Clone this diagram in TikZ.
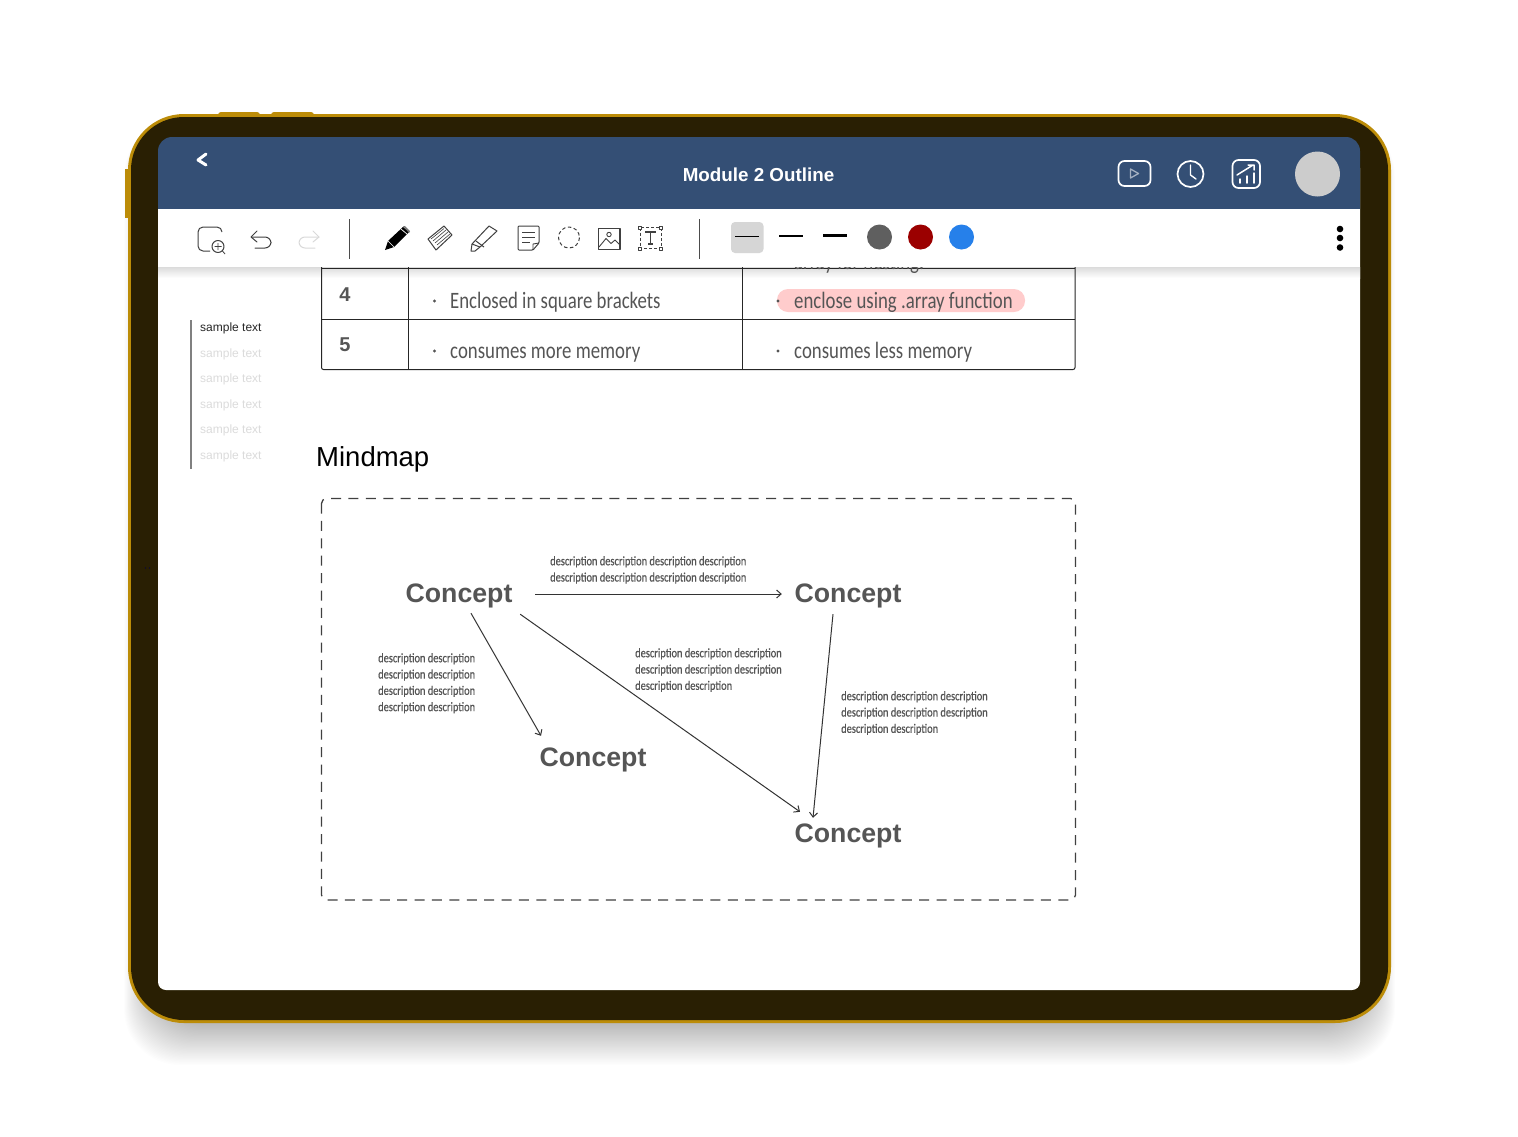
\documentclass[tikz,border=0pt]{standalone}
\usepackage{fontspec}
\setmainfont{Liberation Sans}
\newfontfamily\handfont[FakeStretch=0.80]{Carlito}
\newfontfamily\descfont[FakeStretch=0.80,FakeBold=0.6]{Carlito}
\usepackage{tikz}
\usetikzlibrary{positioning, arrows.meta}

\definecolor{goldrim}{HTML}{BC8C08}
\definecolor{bezel}{HTML}{291F03}
\definecolor{headbar}{HTML}{344F75}
\definecolor{inkgrey}{HTML}{555555}
\definecolor{pillpink}{HTML}{FFCCCC}
\definecolor{swatchgrey}{HTML}{5F5F5F}
\definecolor{swatchred}{HTML}{9B0000}
\definecolor{swatchblue}{HTML}{2680EA}

\tikzset{
  concept/.style={inner sep=0pt, minimum width=118pt, minimum height=40pt, text height=21pt, text depth=3pt, text=inkgrey, font=\fontsize{26.7}{30}\selectfont\bfseries},
  descr/.style={inner sep=0pt, anchor=north west, align=left, text=inkgrey, font=\descfont\fontsize{13}{16.3}\selectfont},
  cell/.style={inner sep=0pt, anchor=base west, text=inkgrey, font=\handfont\fontsize{23.5}{26}\selectfont},
  rownum/.style={inner sep=0pt, text=inkgrey, font=\fontsize{20}{22}\selectfont\bfseries},
  bullet/.style={circle, fill=inkgrey, inner sep=0pt, minimum size=3.4pt},
  side/.style={inner sep=0pt, anchor=west, font=\fontsize{12}{13}\selectfont},
  swatch/.style={circle, inner sep=0pt, minimum size=25pt},
  thickbar/.style={draw=black, line cap=butt},
  gridline/.style={draw=black!85, line width=1pt},
  icon/.style={draw=black!75, line width=1pt, line join=round},
  headicon/.style={draw=white, line width=1.7pt, line join=round, line cap=round},
  link/.style={-{Straight Barb[length=4.5pt,width=8pt]}, draw=black!80, line width=1pt}
}

\begin{document}
\begin{tikzpicture}[x=1pt, y=-1pt]
\useasboundingbox (0,0) rectangle (1518,1136);
\fill[white] (0,0) rectangle (1518,1136);

% shadow under the tablet
\foreach \n in {0,...,39}{
  \fill[black, opacity=.0065, rounded corners=56pt] (128+\n*.75-4,120) rectangle (1391-\n*.75+4,1023+42-\n*1.2);
}

% tablet body
\fill[goldrim, rounded corners=3pt] (218,112) rectangle (260,118);
\fill[goldrim, rounded corners=3pt] (271,112) rectangle (314,118);
\fill[goldrim] (125,169) rectangle (132,218);
\fill[goldrim, rounded corners=56pt] (128,114) rectangle (1391,1023);
\fill[bezel, rounded corners=53pt] (131,117) rectangle (1388,1020);
\fill[white, rounded corners=8pt] (158,160) rectangle (1360,990);
\fill[black!70!blue] (145.5,568) circle (.7) (149.5,568) circle (.7);

% table, scrolled under the toolbar
\shade[top color=black!14, bottom color=white] (158,267) rectangle (1360,278);
\draw[gridline, rounded corners=2pt] (321.5,262) -- (321.5,369.5) -- (1075,369.5) -- (1075,262);
\draw[gridline] (321.5,268) -- (1075,268);
\draw[gridline] (321.5,319.5) -- (1075,319.5);
\draw[gridline] (408.8,262) -- (408.8,369.5);
\draw[gridline] (742,262) -- (742,369.5);
\fill[pillpink, rounded corners=11pt] (777,289) rectangle (1025,312);
\node[rownum] (n4) at (345,294.5) {4};
\node[rownum] (n5) at (345,344.5) {5};
\node[bullet] (b1) at (434.5,301) {};
\node[bullet] (b2) at (434.5,351) {};
\node[bullet] (b3) at (778,301) {};
\node[bullet] (b4) at (778,351) {};
\node[cell] (t0) at (794,269) {array for nesting:};
\node[cell] (t1) at (450,308.5) {Enclosed in square brackets};
\node[cell] (t2) at (794,308.5) {enclose using .array function};
\node[cell] (t3) at (450,358.5) {consumes more memory};
\node[cell] (t4) at (794,358.5) {consumes less memory};

% header
\fill[headbar] (158,209) [rounded corners=14pt] -- (158,137) -- (1360,137) [sharp corners] -- (1360,209) -- cycle;
\fill[white] (158,209) rectangle (1360,267);
\draw[white, line width=3pt, line cap=round, line join=round] (206,154) -- (198,160) -- (206,165);
\node[text=white, inner sep=0pt, font=\fontsize{18.8}{20}\selectfont\bfseries] (title) at (758.5,174.5) {Module 2 Outline};
\draw[headicon, rounded corners=6pt] (1118.5,161) rectangle (1150.5,186);
\draw[white!55!headbar, line width=1.3pt, line join=round] (1130.5,169) -- (1138.5,173.5) -- (1130.5,178) -- cycle;
\draw[headicon] (1190.5,174) circle (13);
\draw[headicon, line width=1.4pt] (1190.5,165) -- (1190.5,175) -- (1196,179);
\draw[headicon, rounded corners=6pt] (1232.5,160) rectangle (1260,188);
\draw[headicon, line width=1.5pt] (1237,175) -- (1253,165) (1248,165) -- (1254,165) -- (1254,170);
\draw[headicon, line width=1.5pt] (1240,183) -- (1240,179) (1247,183) -- (1247,176) (1254,183) -- (1254,173);
\fill[black!20] (1317.5,174) circle (22.5);

% toolbar icons
\draw[icon, rounded corners=5pt] (222,232) -- (222,227) -- (198,227) -- (198,251) -- (210,251);
\draw[icon, fill=white] (218,246.5) circle (6);
\draw[icon, line width=.8pt] (218,243) -- (218,250) (214.5,246.5) -- (221.5,246.5) (222.5,251) -- (225,254);
\draw[icon, line cap=round, rounded corners=6pt] (252,237) -- (271,237) -- (271,248) -- (255,248);
\draw[icon, line cap=round] (257,231) -- (251,237) -- (257,242);
\draw[icon, draw=black!15, line cap=round, rounded corners=6pt] (319,237) -- (299,237) -- (299,248) -- (315,248);
\draw[icon, draw=black!15, line cap=round] (313,231) -- (319,237) -- (313,242);
\draw[black!70] (349.5,219) -- (349.5,259);
% pencil
\fill[black] (385,250) -- (388,241) -- (403,227) -- (409,232) -- (394,247) -- cycle;
\draw[white, line width=.7pt] (388,241) -- (394,247) (401,229) -- (407,234);
\fill[black!55] (403,226) -- (405,226) -- (410,231) -- (409,233) -- cycle;
% ruler
\draw[icon] (428,239) -- (444,226) -- (452,235) -- (436,250) -- cycle;
\draw[icon, line width=.6pt] (431,239) -- (444,228.5) (433,241) -- (446,230) (435,243) -- (448,232) (437,245) -- (450,234);
% highlighter
\draw[icon] (472,244) -- (489,226) -- (497,231) -- (480,247) -- cycle;
\draw[icon] (472,244) -- (471,251) -- (475,251) -- (480,247) (476,241) -- (484,247);
% note
\draw[icon, rounded corners=1pt] (533,250) -- (518,250) -- (518,226) -- (539,226) -- (539,243) -- cycle;
\draw[icon, line width=.9pt] (522,232) -- (535,232) (522,237) -- (535,237) (522,242) -- (530,242);
\draw[icon, line width=.9pt] (533,250) -- (533,244) -- (539,243);
% lasso
\draw[icon, dash pattern=on 3.5pt off 2.5pt] (569,237.5) circle (10.5);
% picture
\draw[icon, line width=1.2pt] (598.5,228.5) rectangle (620,249.5);
\draw[icon, line width=.9pt] (609,234.5) circle (2.2);
\draw[icon, line width=.9pt] (599,247) -- (606,238.5) -- (611,243.5) -- (615,240) -- (620,245);
% text box
\draw[icon, densely dashed, line width=.7pt] (640,227.5) rectangle (661,248.5);
\foreach \cx/\cy in {640/227.5, 661/227.5, 640/248.5, 661/248.5}{
  \draw[icon, line width=.6pt, fill=white] (\cx-1.6,\cy-1.6) rectangle (\cx+1.6,\cy+1.6);
}
\draw[icon, line width=1.1pt] (645,232) -- (656,232) (650.5,232) -- (650.5,244) (648,244) -- (653,244);
\draw[black!70] (699.5,219) -- (699.5,259);

% pen widths and colours
\fill[black!16, rounded corners=4pt] (731,222) rectangle (763.5,253);
\draw[thickbar, line width=.9pt] (735,236.5) -- (759,236.5);
\draw[thickbar, line width=1.7pt] (779,236) -- (803,236);
\draw[thickbar, line width=3pt] (823,235.5) -- (847,235.5);
\node[swatch, fill=swatchgrey] (s1) at (879.5,237) {};
\node[swatch, fill=swatchred] (s2) at (920.5,237) {};
\node[swatch, fill=swatchblue] (s3) at (961.5,237) {};
\foreach \dy in {229,238,247.5}{
  \fill[black] (1340,\dy) circle (3.3);
}

% side list
\draw[black!50, line width=1.5pt] (191,320) -- (191,469);
\node[side, text=black!85] (l0) at (200,328.5) {sample text};
\foreach \i/\ly in {1/354,2/379.6,3/405.2,4/430.8,5/456.4}{
  \node[side, text=black!14] (l\i) at (200,\ly) {sample text};
}

% mindmap
\node[inner sep=0pt, anchor=west, font=\fontsize{27.5}{30}\selectfont] (mm) at (316,459) {Mindmap};
\draw[black!75, line width=1.3pt, dash pattern=on 10pt off 7.4pt, rounded corners=5pt] (321.5,498.5) rectangle (1075.5,900);

\node[concept] (c1) at (459,593) {Concept};
\node[concept] (c2) at (848,593) {Concept};
\node[concept] (c3) at (593,757) {Concept};
\node[concept] (c4) at (848,833) {Concept};

\coordinate (c1r) at ([xshift=17pt,yshift=-1pt]c1.east);
\coordinate (c2l) at ([xshift=-7pt,yshift=-1pt]c2.west);
\draw[link] (c1r) -- (c2l);
\draw[link] ([xshift=12pt]c1.south) -- ([xshift=-52pt,yshift=1pt]c3.north);
\draw[link] ([xshift=2pt,yshift=-1pt]c1.south east) -- ([xshift=-48pt,yshift=1pt]c4.north);
\draw[link] ([xshift=-15pt,yshift=-1pt]c2.south) -- ([xshift=-35pt,yshift=-5pt]c4.north);

\node[descr] (d1) at (550,556) {description description description description\\description description description description};
\node[descr] (d2) at (378,653) {description description\\description description\\description description\\description description};
\node[descr] (d3) at (635,648) {description description description\\description description description\\description description};
\node[descr] (d4) at (841,691) {description description description\\description description description\\description description};
\end{tikzpicture}
\end{document}
